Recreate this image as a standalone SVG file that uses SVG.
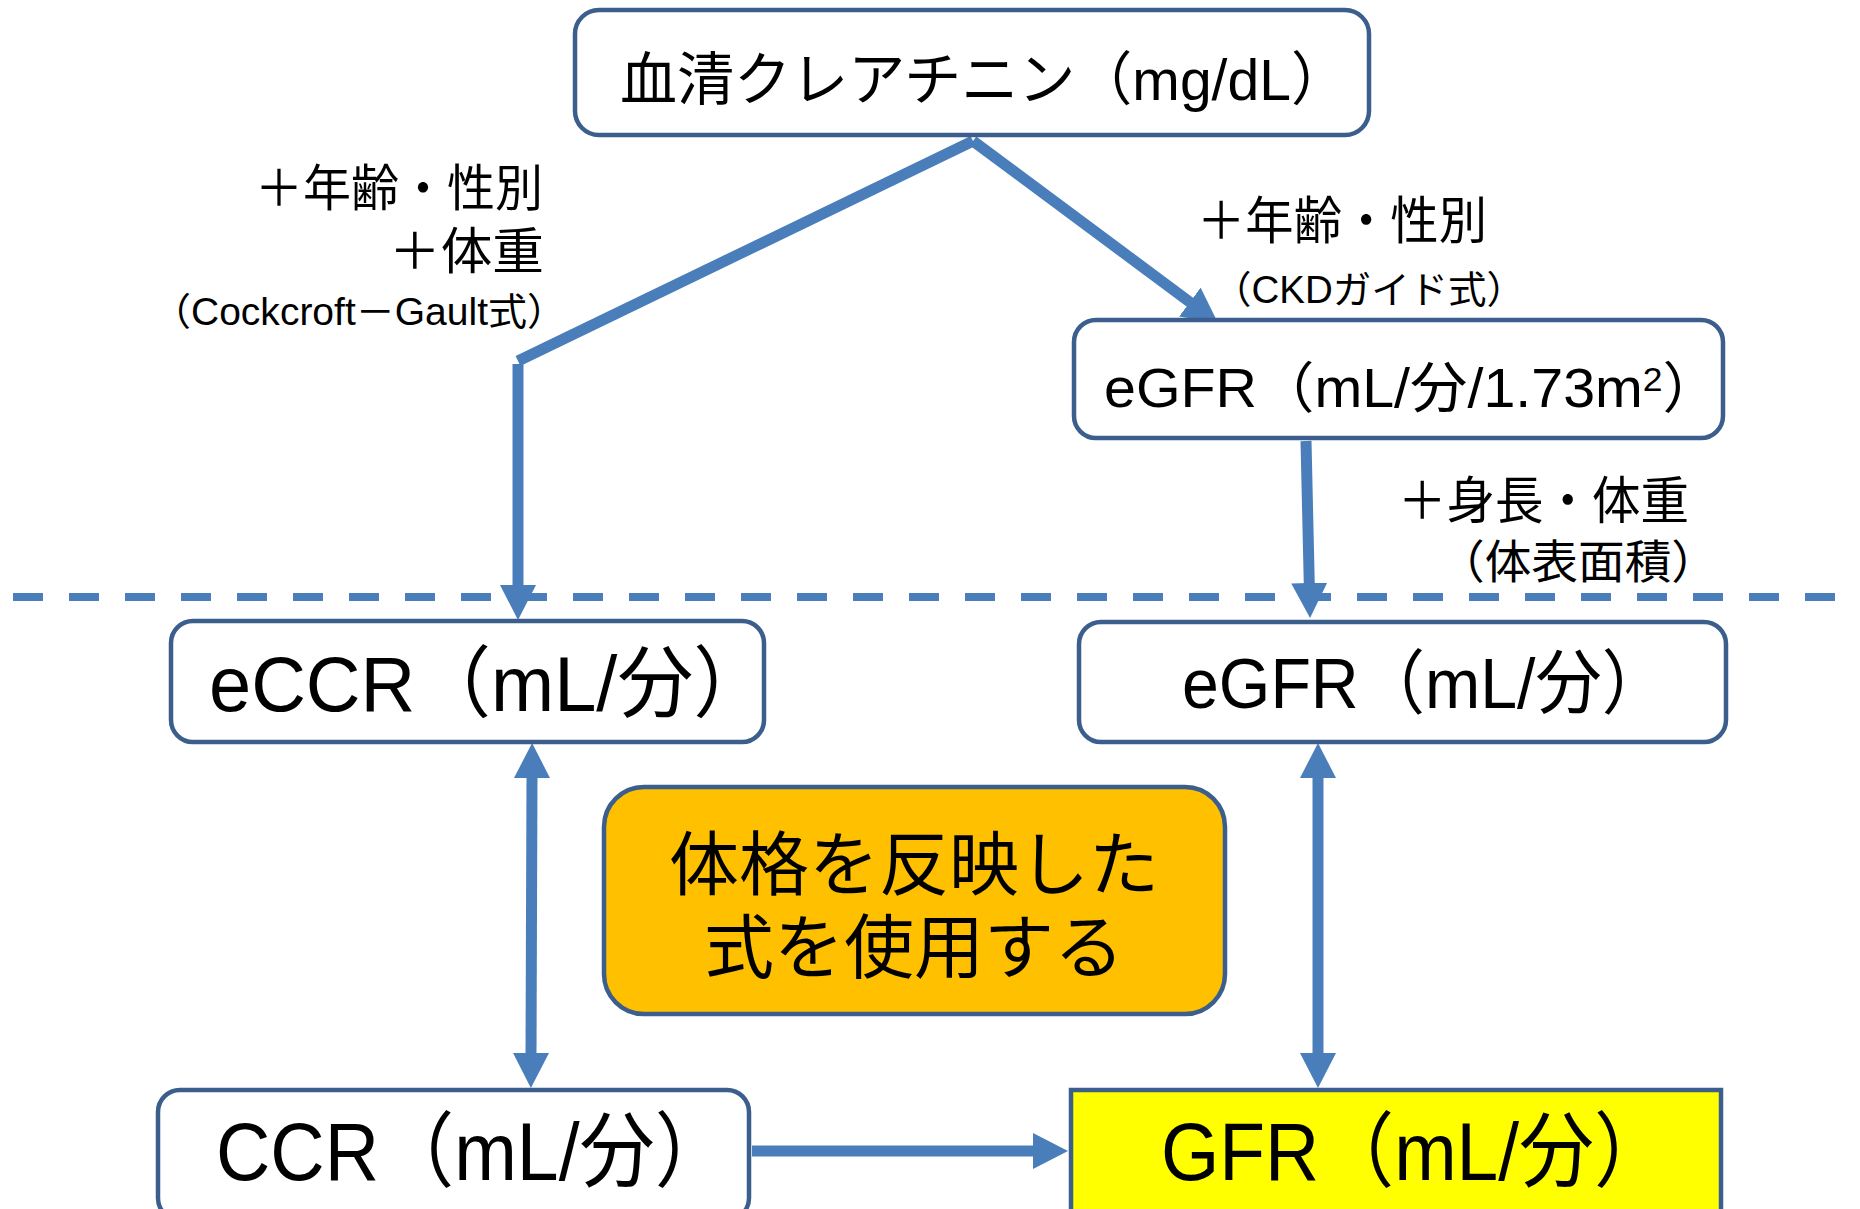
<svg xmlns="http://www.w3.org/2000/svg" width="1860" height="1209" viewBox="0 0 1860 1209">
<defs>
<style>
.box{fill:#fff;stroke:#3B5E8C;stroke-width:4.5}
.t{font-family:'Liberation Sans','Noto Sans CJK JP',sans-serif;fill:#000}
.c{fill:none;stroke:#4A7EBB;stroke-width:11}
.sep{fill:none;stroke:#4A7EBB;stroke-width:8;stroke-dasharray:30 26}
</style>
<marker id="ah" viewBox="0 0 35 36" markerWidth="35" markerHeight="36" refX="2" refY="18" orient="auto-start-reverse" markerUnits="userSpaceOnUse"><path d="M0,0 L35,18 L0,36 z" fill="#4A7EBB"/></marker>
</defs>
<rect width="1860" height="1209" fill="#fff"/>

<line class="sep" x1="13" y1="597" x2="1835" y2="597"/>

<g id="connectors">
<line class="c" x1="973" y1="141" x2="518" y2="361"/>
<line class="c" x1="518" y1="364" x2="518" y2="587" marker-end="url(#ah)"/>
<line class="c" x1="973" y1="141" x2="1191.5" y2="303.3" marker-end="url(#ah)"/>
<line class="c" x1="1306" y1="441" x2="1309.3" y2="585" marker-end="url(#ah)"/>
<line class="c" x1="532" y1="776" x2="531" y2="1055" marker-start="url(#ah)" marker-end="url(#ah)"/>
<line class="c" x1="1318" y1="776" x2="1318" y2="1055" marker-start="url(#ah)" marker-end="url(#ah)"/>
<line class="c" x1="752" y1="1151" x2="1035" y2="1151" marker-end="url(#ah)"/>
</g>

<g id="serum-creatinine">
<rect class="box" x="575" y="10" width="794" height="125" rx="24"/>
<text class="t" x="620" y="100" font-size="58" textLength="728" lengthAdjust="spacingAndGlyphs">血清クレアチニン（mg/dL）</text>
</g>

<g id="label-left">
<text class="t" x="255" y="206" font-size="50" textLength="288" lengthAdjust="spacingAndGlyphs">＋年齢・性別</text>
<text class="t" x="389" y="269" font-size="50" textLength="155" lengthAdjust="spacingAndGlyphs">＋体重</text>
<text class="t" x="152" y="325" font-size="38" textLength="414" lengthAdjust="spacingAndGlyphs">（Cockcroft－Gault式）</text>
</g>

<g id="label-right">
<text class="t" x="1197" y="239" font-size="51" textLength="290" lengthAdjust="spacingAndGlyphs">＋年齢・性別</text>
<text class="t" x="1213" y="303" font-size="38" textLength="312" lengthAdjust="spacingAndGlyphs">（CKDガイド式）</text>
</g>

<g id="egfr-normalized">
<rect class="box" x="1074" y="320" width="649" height="118" rx="22"/>
<text class="t" x="1104" y="407" font-size="55" textLength="616" lengthAdjust="spacingAndGlyphs">eGFR（mL/分/1.73m<tspan font-size="34" dy="-16">2</tspan><tspan dy="16">）</tspan></text>
</g>

<g id="label-bsa">
<text class="t" x="1398" y="519" font-size="51" textLength="291" lengthAdjust="spacingAndGlyphs">＋身長・体重</text>
<text class="t" x="1438" y="578" font-size="46" textLength="280" lengthAdjust="spacingAndGlyphs">（体表面積）</text>
</g>

<g id="eccr">
<rect class="box" x="171" y="621" width="593" height="121" rx="22"/>
<text class="t" x="209" y="711" font-size="78" textLength="560" lengthAdjust="spacingAndGlyphs">eCCR（mL/分）</text>
</g>

<g id="egfr">
<rect class="box" x="1079" y="622" width="647" height="120" rx="22"/>
<text class="t" x="1182" y="708" font-size="70" textLength="486" lengthAdjust="spacingAndGlyphs">eGFR（mL/分）</text>
</g>

<g id="note">
<rect x="604" y="787" width="621" height="227" rx="40" fill="#FFC000" stroke="#3B5E8C" stroke-width="4.5"/>
<text class="t" x="914" y="890" font-size="70" text-anchor="middle">体格を反映した</text>
<text class="t" x="914" y="973" font-size="70" text-anchor="middle">式を使用する</text>
</g>

<g id="ccr">
<rect class="box" x="158" y="1090" width="591" height="130" rx="22"/>
<text class="t" x="216" y="1180" font-size="82" textLength="514" lengthAdjust="spacingAndGlyphs">CCR（mL/分）</text>
</g>

<g id="gfr">
<rect x="1071" y="1090" width="650" height="130" fill="#FFFF00" stroke="#3B5E8C" stroke-width="4.5"/>
<text class="t" x="1161" y="1180" font-size="82" textLength="508" lengthAdjust="spacingAndGlyphs">GFR（mL/分）</text>
</g>
</svg>
